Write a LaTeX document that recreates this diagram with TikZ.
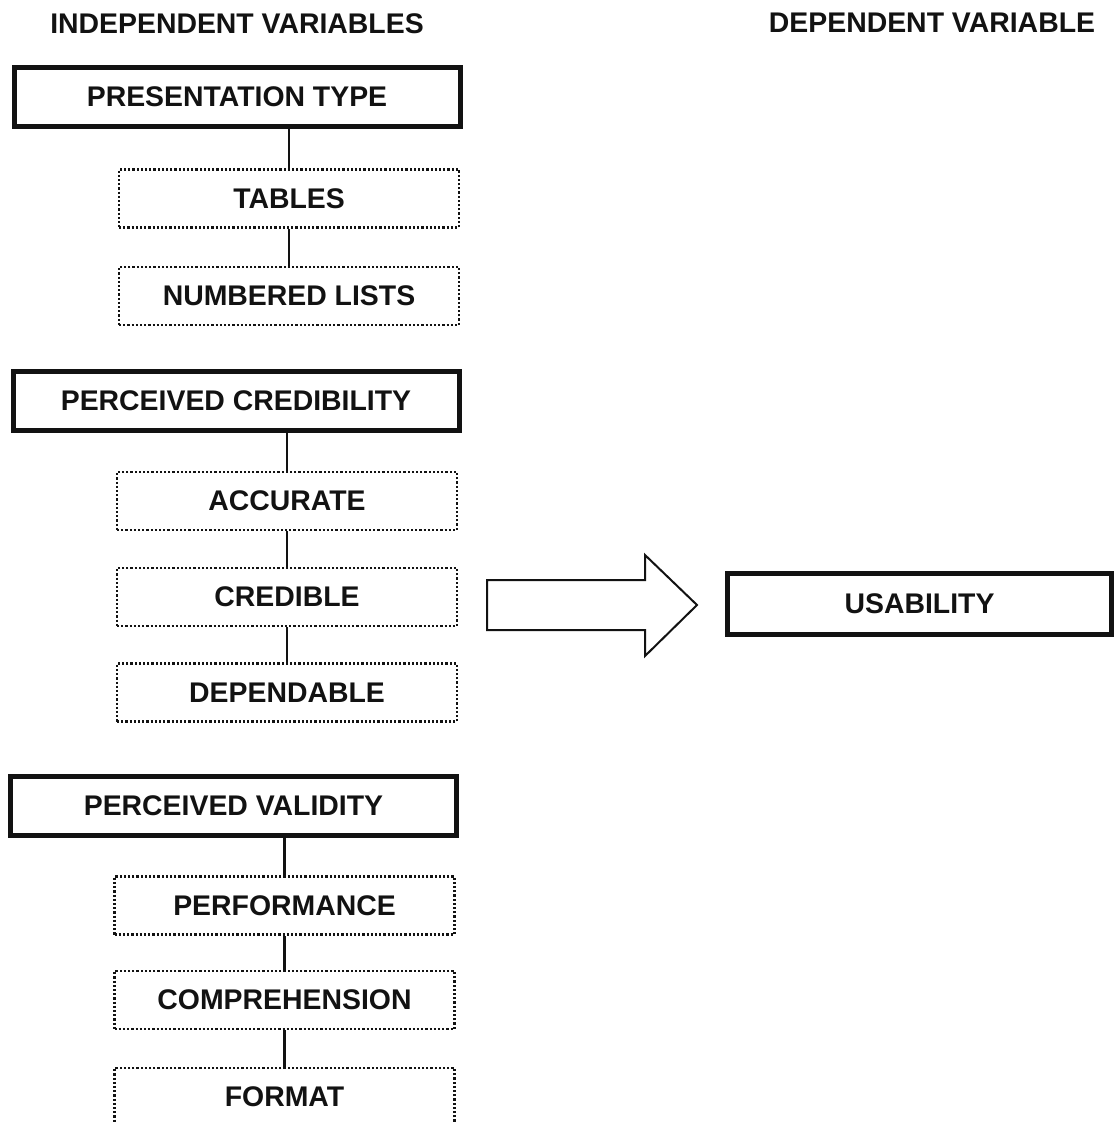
\documentclass[tikz,border=0pt]{standalone}
\usepackage{fontspec}
\setmainfont{Liberation Sans}
\usetikzlibrary{positioning}
\definecolor{inkblack}{RGB}{18,18,18}

\begin{document}
\begin{tikzpicture}[x=0.5pt, y=-0.5pt,
    headlabel/.style={font=\fontsize{14.2}{16}\selectfont\bfseries, text=inkblack},
    mainbox/.style={draw=inkblack, line width=2.5pt, minimum width=223pt,
                    minimum height=29.5pt, inner sep=0pt, text=inkblack,
                    font=\fontsize{14.2}{16}\selectfont\bfseries},
    subbox/.style={draw=inkblack, densely dotted, line width=1.1pt, minimum width=170pt,
                   minimum height=29pt, inner sep=0pt, text=inkblack,
                   font=\fontsize{14.2}{16}\selectfont\bfseries},
    link/.style={draw=inkblack, line width=1.3pt}
]

\useasboundingbox (0,0) rectangle (1116,1123);
\clip (0,0) rectangle (1116,1123);

\def\mainx{236}
\def\subx{287}

% column headings
\node[headlabel] (indep) at (237, 24) {INDEPENDENT VARIABLES};
\node[headlabel] (dep) at (932, 23) {DEPENDENT VARIABLE};

% presentation type
\node[mainbox] (pres) at (\mainx+1, 97) {PRESENTATION TYPE};
\node[subbox] (tables) at (\subx+2, 198.5) {TABLES};
\node[subbox] (lists) at (\subx+2, 296) {NUMBERED LISTS};
\draw[link] (tables.north) -- (tables.north |- pres.south);
\draw[link] (lists.north) -- (lists.north |- tables.south);

% perceived credibility
\node[mainbox] (cred) at (\mainx, 400.5) {PERCEIVED CREDIBILITY};
\node[subbox] (accurate) at (\subx, 501) {ACCURATE};
\node[subbox] (credible) at (\subx, 597) {CREDIBLE};
\node[subbox] (dependable) at (\subx, 692.5) {DEPENDABLE};
\draw[link] (accurate.north) -- (accurate.north |- cred.south);
\draw[link] (credible.north) -- (credible.north |- accurate.south);
\draw[link] (dependable.north) -- (dependable.north |- credible.south);

% perceived validity
\node[mainbox] (valid) at (\mainx-2.5, 805.5) {PERCEIVED VALIDITY};
\node[subbox] (perf) at (\subx-2.5, 905.5) {PERFORMANCE};
\node[subbox] (compr) at (\subx-2.5, 1000) {COMPREHENSION};
\node[subbox] (format) at (\subx-2.5, 1097) {FORMAT};
\draw[link] (perf.north) -- (perf.north |- valid.south);
\draw[link] (compr.north) -- (compr.north |- perf.south);
\draw[link] (format.north) -- (format.north |- compr.south);

% block arrow and outcome
\draw[draw=inkblack, line width=1pt, line join=miter]
    (487,580) -- (645,580) -- (645,555) -- (697,605) -- (645,656) -- (645,630) -- (487,630) -- cycle;
\node[mainbox, minimum width=192pt, minimum height=30.5pt] (usab) at (919.5, 604) {USABILITY};

\end{tikzpicture}
\end{document}
